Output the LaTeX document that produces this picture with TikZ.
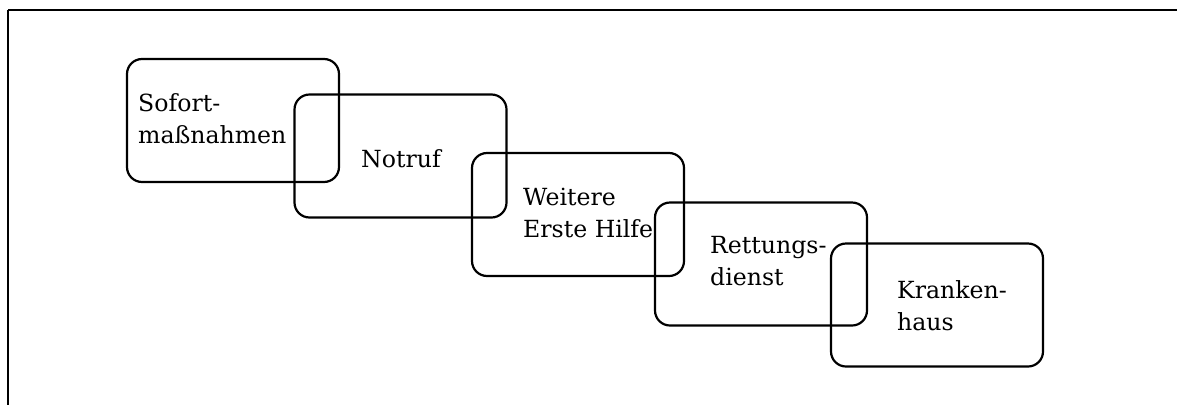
\documentclass[tikz,border=0pt]{standalone}
\usepackage{fontspec}
\setmainfont{DejaVu Serif}
\begin{document}
\begin{tikzpicture}[x=1pt,y=-1pt,
  stage/.style={draw, line width=2.2pt, rounded corners=15pt,
    minimum width=212pt, minimum height=123pt, inner sep=0pt},
  label/.style={anchor=base west, inner sep=0pt, align=left,
    font=\fontsize{23.6}{32}\selectfont}]
  \useasboundingbox (0,0) rectangle (1177,405);

  % page frame: top rule and left rule
  \coordinate (corner) at (8,10);
  \coordinate (topend) at (1177,10);
  \coordinate (leftend) at (8,405);
  \draw[line width=1.5pt] (topend) -- (corner);
  \draw[line width=2pt] (corner) -- (leftend);

  % overlapping stages of the rescue chain
  \node[stage] (b1) at (233,120.5) {};
  \node[stage] (b2) at (400.5,156) {};
  \node[stage] (b3) at (578,214.5) {};
  \node[stage] (b4) at (761,264) {};
  \node[stage] (b5) at (937,305) {};

  % labels, placed by the baseline of their last line
  \node[label] (t1) at (138,143) {Sofort-\\maßnahmen};
  \node[label] (t2) at (361,167) {Notruf};
  \node[label] (t3) at (523,237) {Weitere\\Erste Hilfe};
  \node[label] (t4) at (710,285) {Rettungs-\\dienst};
  \node[label] (t5) at (897,330) {Kranken-\\haus};
\end{tikzpicture}
\end{document}
